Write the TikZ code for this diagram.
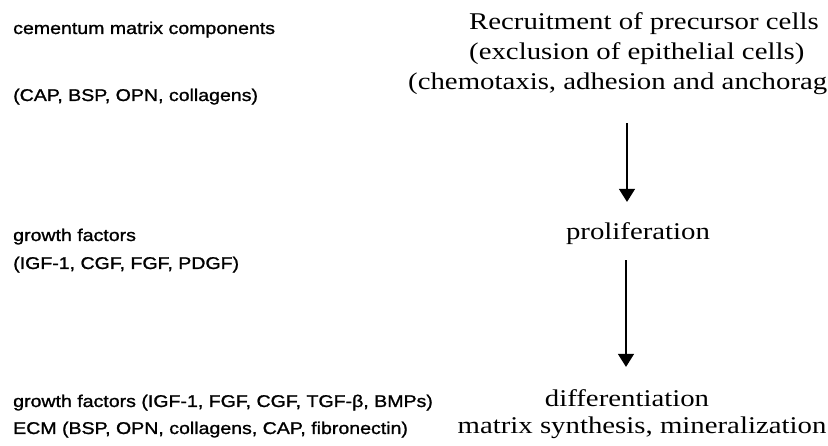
\documentclass[tikz,border=0pt]{standalone}
\usepackage{fontspec}
\setmainfont{Liberation Serif}
\newfontfamily\rightfont[FakeStretch=1.2]{Liberation Serif}
\newfontfamily\leftfont[FakeStretch=1.15,FakeBold=1.2]{Liberation Sans}
\usetikzlibrary{arrows.meta}
\begin{document}
\begin{tikzpicture}[x=1pt,y=-1pt,
  lefttext/.style={anchor=base west, inner sep=0pt, font=\leftfont\fontsize{17}{20}\selectfont},
  righttext/.style={anchor=base west, inner sep=0pt, font=\rightfont\fontsize{24}{29}\selectfont},
  centertext/.style={anchor=base, inner sep=0pt, font=\rightfont\fontsize{24}{29}\selectfont},
  flowarrow/.style={line width=1.2pt, -{Triangle[width=16pt,length=13pt]}}]
\useasboundingbox (0,0) rectangle (828,446);
\fill[white] (0,0) rectangle (828,446);
% left column
\node[lefttext] (cmc) at (13,34) {cementum matrix components};
\node[lefttext] (cmcl) at (13,101) {(CAP, BSP, OPN, collagens)};
\node[lefttext] (gf1) at (13,241) {growth factors};
\node[lefttext] (gf1l) at (13,269) {(IGF-1, CGF, FGF, PDGF)};
\node[lefttext] (gf2) at (13,407) {growth factors (IGF-1, FGF, CGF, TGF-β, BMPs)};
\node[lefttext] (ecm) at (13,434) {ECM (BSP, OPN, collagens, CAP, fibronectin)};
% right column
\node[righttext] (rec1) at (469,30) {Recruitment of precursor cells};
\node[righttext] (rec2) at (469,60) {(exclusion of epithelial cells)};
\node[righttext] (rec3) at (408,90) {(chemotaxis, adhesion and anchorag};
\node[centertext] (prol) at (638,240) {proliferation};
\node[centertext] (diff) at (627,407) {differentiation};
\node[centertext] (msyn) at (642,434) {matrix synthesis, mineralization};
\coordinate (ax1) at (627,0);
\coordinate (ax2) at (626,0);
\draw[flowarrow, shorten <=28pt, shorten >=21pt] (rec3.south -| ax1) -- (prol.north -| ax1);
\draw[flowarrow, shorten <=15pt, shorten >=23pt] (prol.south -| ax2) -- (diff.north -| ax2);
\end{tikzpicture}
\end{document}
